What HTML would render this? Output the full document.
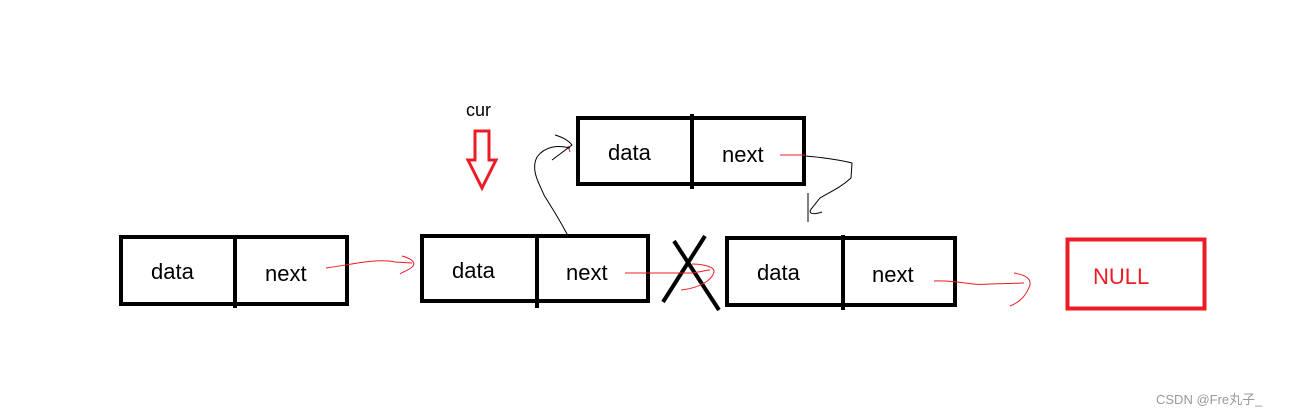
<!DOCTYPE html>
<html><head><meta charset="utf-8"><style>
html,body{margin:0;padding:0;background:#fff;}
svg{display:block}
text{font-family:"Liberation Sans","Noto Sans CJK SC",sans-serif;}
</style></head><body>
<svg width="1292" height="415" viewBox="0 0 1292 415" xmlns="http://www.w3.org/2000/svg">
<g fill="none" stroke="#000" stroke-width="4">
<rect x="121" y="237" width="226" height="67"/><line x1="235" y1="235" x2="235" y2="308"/>
<rect x="422" y="236" width="226" height="65"/><line x1="537" y1="234" x2="537" y2="308"/>
<rect x="578" y="118" width="226" height="66"/><line x1="692" y1="114" x2="692" y2="189"/>
<rect x="727" y="238" width="228" height="67"/><line x1="843" y1="235" x2="843" y2="310"/>
<line x1="674" y1="241" x2="719" y2="310" stroke-width="4"/>
<line x1="663" y1="302" x2="705" y2="236" stroke-width="4"/>
</g>
<rect x="1067.5" y="239.5" width="137" height="69" fill="none" stroke="#ec1c24" stroke-width="4"/>
<g font-size="22" fill="#000">
<text x="151" y="279">data</text><text x="265" y="281">next</text>
<text x="452" y="278">data</text><text x="566" y="280">next</text>
<text x="608" y="160">data</text><text x="722" y="162">next</text>
<text x="757" y="280">data</text><text x="872" y="282">next</text>
<text x="466" y="116" font-size="18">cur</text>
</g>
<text x="1093" y="284" font-size="22" fill="#ec1c24">NULL</text>
<polygon points="475,131 489,131 489,160 496,160 482,188 468,160 475,160" fill="none" stroke="#ec1c24" stroke-width="3"/>
<g fill="none" stroke="#ec1c24" stroke-width="1">
<path d="M326,268 C350,265 375,258 395,262 L412,263 M402,256 C410,258 416,262 413,266 C410,270 402,272 400,274"/>
<path d="M625,273 L692,273 C700,272 707,270 710,270 M692,264 C700,264 715,266 714,272 C712,280 700,288 681,290"/>
<path d="M934,281 C960,280 970,286 990,284 L1024,283 M1014,273 C1025,275 1031,278 1030,285 C1026,296 1020,302 1010,306"/>
<path d="M780,155 L805,155"/>
<path d="M568,146 L570,152"/>
</g>
<g fill="none" stroke="#000" stroke-width="1">
<path d="M805,156 C820,157 840,160 852,163 L851,178 C840,188 830,192 820,198 L812,208 C808,212 810,216 822,212"/>
<path d="M808,193 L808,222"/>
<path d="M568,236 C560,220 550,205 544,195 C540,185 530,170 537,157 C545,146 558,145 570,148"/>
<path d="M555,135 C562,137 568,140 572,145 L552,160"/>
</g>
<text x="1156" y="404" font-size="13" fill="#999">CSDN @Fre丸子_</text>
</svg>
</body></html>
